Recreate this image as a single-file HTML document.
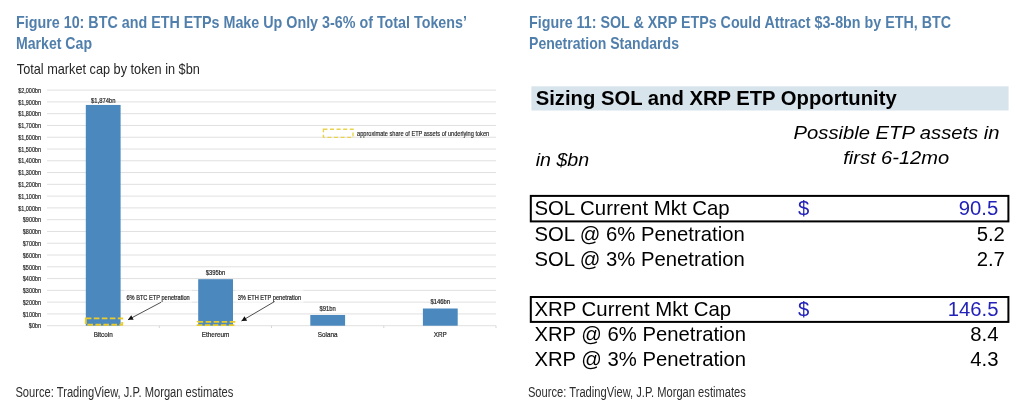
<!DOCTYPE html>
<html><head><meta charset="utf-8"><style>
html,body{margin:0;padding:0;background:#fff;width:1024px;height:410px;overflow:hidden}
svg{display:block;will-change:transform}
text{font-family:"Liberation Sans",sans-serif}
</style></head><body>
<svg width="1024" height="410" viewBox="0 0 1024 410">
<text x="16" y="27.9" font-size="17" fill="#517fac" font-weight="bold" textLength="451" lengthAdjust="spacingAndGlyphs">Figure 10: BTC and ETH ETPs Make Up Only 3-6% of Total Tokens’</text>
<text x="16" y="48.9" font-size="17" fill="#517fac" font-weight="bold" textLength="76" lengthAdjust="spacingAndGlyphs">Market Cap</text>
<text x="16.8" y="73.6" font-size="15" fill="#262626" textLength="183" lengthAdjust="spacingAndGlyphs">Total market cap by token in $bn</text>
<line x1="47" y1="325.70" x2="496" y2="325.70" stroke="#e0e0e0" stroke-width="1"/>
<text transform="translate(41.0 328.4) scale(0.7 1)" font-size="7.8" fill="#222" stroke="#222" stroke-width="0.2" text-anchor="end">$0bn</text>
<line x1="47" y1="313.92" x2="496" y2="313.92" stroke="#e0e0e0" stroke-width="1"/>
<text transform="translate(41.0 316.62) scale(0.7 1)" font-size="7.8" fill="#222" stroke="#222" stroke-width="0.2" text-anchor="end">$100bn</text>
<line x1="47" y1="302.14" x2="496" y2="302.14" stroke="#e0e0e0" stroke-width="1"/>
<text transform="translate(41.0 304.84) scale(0.7 1)" font-size="7.8" fill="#222" stroke="#222" stroke-width="0.2" text-anchor="end">$200bn</text>
<line x1="47" y1="290.36" x2="496" y2="290.36" stroke="#e0e0e0" stroke-width="1"/>
<text transform="translate(41.0 293.06) scale(0.7 1)" font-size="7.8" fill="#222" stroke="#222" stroke-width="0.2" text-anchor="end">$300bn</text>
<line x1="47" y1="278.58" x2="496" y2="278.58" stroke="#e0e0e0" stroke-width="1"/>
<text transform="translate(41.0 281.28) scale(0.7 1)" font-size="7.8" fill="#222" stroke="#222" stroke-width="0.2" text-anchor="end">$400bn</text>
<line x1="47" y1="266.80" x2="496" y2="266.80" stroke="#e0e0e0" stroke-width="1"/>
<text transform="translate(41.0 269.5) scale(0.7 1)" font-size="7.8" fill="#222" stroke="#222" stroke-width="0.2" text-anchor="end">$500bn</text>
<line x1="47" y1="255.02" x2="496" y2="255.02" stroke="#e0e0e0" stroke-width="1"/>
<text transform="translate(41.0 257.72) scale(0.7 1)" font-size="7.8" fill="#222" stroke="#222" stroke-width="0.2" text-anchor="end">$600bn</text>
<line x1="47" y1="243.24" x2="496" y2="243.24" stroke="#e0e0e0" stroke-width="1"/>
<text transform="translate(41.0 245.94) scale(0.7 1)" font-size="7.8" fill="#222" stroke="#222" stroke-width="0.2" text-anchor="end">$700bn</text>
<line x1="47" y1="231.46" x2="496" y2="231.46" stroke="#e0e0e0" stroke-width="1"/>
<text transform="translate(41.0 234.16) scale(0.7 1)" font-size="7.8" fill="#222" stroke="#222" stroke-width="0.2" text-anchor="end">$800bn</text>
<line x1="47" y1="219.68" x2="496" y2="219.68" stroke="#e0e0e0" stroke-width="1"/>
<text transform="translate(41.0 222.38) scale(0.7 1)" font-size="7.8" fill="#222" stroke="#222" stroke-width="0.2" text-anchor="end">$900bn</text>
<line x1="47" y1="207.90" x2="496" y2="207.90" stroke="#e0e0e0" stroke-width="1"/>
<text transform="translate(41.0 210.6) scale(0.7 1)" font-size="7.8" fill="#222" stroke="#222" stroke-width="0.2" text-anchor="end">$1,000bn</text>
<line x1="47" y1="196.12" x2="496" y2="196.12" stroke="#e0e0e0" stroke-width="1"/>
<text transform="translate(41.0 198.82) scale(0.7 1)" font-size="7.8" fill="#222" stroke="#222" stroke-width="0.2" text-anchor="end">$1,100bn</text>
<line x1="47" y1="184.34" x2="496" y2="184.34" stroke="#e0e0e0" stroke-width="1"/>
<text transform="translate(41.0 187.04) scale(0.7 1)" font-size="7.8" fill="#222" stroke="#222" stroke-width="0.2" text-anchor="end">$1,200bn</text>
<line x1="47" y1="172.56" x2="496" y2="172.56" stroke="#e0e0e0" stroke-width="1"/>
<text transform="translate(41.0 175.26) scale(0.7 1)" font-size="7.8" fill="#222" stroke="#222" stroke-width="0.2" text-anchor="end">$1,300bn</text>
<line x1="47" y1="160.78" x2="496" y2="160.78" stroke="#e0e0e0" stroke-width="1"/>
<text transform="translate(41.0 163.48) scale(0.7 1)" font-size="7.8" fill="#222" stroke="#222" stroke-width="0.2" text-anchor="end">$1,400bn</text>
<line x1="47" y1="149.00" x2="496" y2="149.00" stroke="#e0e0e0" stroke-width="1"/>
<text transform="translate(41.0 151.7) scale(0.7 1)" font-size="7.8" fill="#222" stroke="#222" stroke-width="0.2" text-anchor="end">$1,500bn</text>
<line x1="47" y1="137.22" x2="496" y2="137.22" stroke="#e0e0e0" stroke-width="1"/>
<text transform="translate(41.0 139.92) scale(0.7 1)" font-size="7.8" fill="#222" stroke="#222" stroke-width="0.2" text-anchor="end">$1,600bn</text>
<line x1="47" y1="125.44" x2="496" y2="125.44" stroke="#e0e0e0" stroke-width="1"/>
<text transform="translate(41.0 128.14) scale(0.7 1)" font-size="7.8" fill="#222" stroke="#222" stroke-width="0.2" text-anchor="end">$1,700bn</text>
<line x1="47" y1="113.66" x2="496" y2="113.66" stroke="#e0e0e0" stroke-width="1"/>
<text transform="translate(41.0 116.36) scale(0.7 1)" font-size="7.8" fill="#222" stroke="#222" stroke-width="0.2" text-anchor="end">$1,800bn</text>
<line x1="47" y1="101.88" x2="496" y2="101.88" stroke="#e0e0e0" stroke-width="1"/>
<text transform="translate(41.0 104.58) scale(0.7 1)" font-size="7.8" fill="#222" stroke="#222" stroke-width="0.2" text-anchor="end">$1,900bn</text>
<line x1="47" y1="90.10" x2="496" y2="90.10" stroke="#e0e0e0" stroke-width="1"/>
<text transform="translate(41.0 92.8) scale(0.7 1)" font-size="7.8" fill="#222" stroke="#222" stroke-width="0.2" text-anchor="end">$2,000bn</text>
<line x1="159.3" y1="325.7" x2="159.3" y2="328" stroke="#d6d6d6" stroke-width="1"/>
<line x1="271.5" y1="325.7" x2="271.5" y2="328" stroke="#d6d6d6" stroke-width="1"/>
<line x1="383.8" y1="325.7" x2="383.8" y2="328" stroke="#d6d6d6" stroke-width="1"/>
<line x1="496" y1="325.7" x2="496" y2="328" stroke="#d6d6d6" stroke-width="1"/>
<rect x="85.80" y="104.94" width="34.8" height="220.76" fill="#4b88be"/>
<text transform="translate(103.2 102.7) scale(0.78 1)" font-size="7.5" fill="#222" stroke="#222" stroke-width="0.2" text-anchor="middle">$1,874bn</text>
<text transform="translate(103.2 336.6) scale(0.84 1)" font-size="7.6" fill="#222" stroke="#222" stroke-width="0.2" text-anchor="middle">Bitcoin</text>
<rect x="198.20" y="279.17" width="34.8" height="46.53" fill="#4b88be"/>
<text transform="translate(215.6 274.87) scale(0.78 1)" font-size="7.5" fill="#222" stroke="#222" stroke-width="0.2" text-anchor="middle">$395bn</text>
<text transform="translate(215.6 336.6) scale(0.84 1)" font-size="7.6" fill="#222" stroke="#222" stroke-width="0.2" text-anchor="middle">Ethereum</text>
<rect x="310.30" y="314.98" width="34.8" height="10.72" fill="#4b88be"/>
<text transform="translate(327.7 310.68) scale(0.78 1)" font-size="7.5" fill="#222" stroke="#222" stroke-width="0.2" text-anchor="middle">$91bn</text>
<text transform="translate(327.7 336.6) scale(0.84 1)" font-size="7.6" fill="#222" stroke="#222" stroke-width="0.2" text-anchor="middle">Solana</text>
<rect x="422.90" y="308.50" width="34.8" height="17.20" fill="#4b88be"/>
<text transform="translate(440.3 304.2) scale(0.78 1)" font-size="7.5" fill="#222" stroke="#222" stroke-width="0.2" text-anchor="middle">$146bn</text>
<text transform="translate(440.3 336.6) scale(0.84 1)" font-size="7.6" fill="#222" stroke="#222" stroke-width="0.2" text-anchor="middle">XRP</text>
<rect x="85.8" y="318.4" width="36.4" height="6.4" fill="none" stroke="#eccc2a" stroke-width="1.9" stroke-dasharray="5.6 2.4"/>
<rect x="197.6" y="321.9" width="36.8" height="3.2" fill="none" stroke="#eccc2a" stroke-width="1.8" stroke-dasharray="5.6 2.4"/>
<rect x="124" y="287.5" width="68" height="16" fill="#fff" fill-opacity="0.5"/>
<rect x="235.5" y="287.5" width="68" height="16" fill="#fff" fill-opacity="0.5"/>
<line x1="161.2" y1="302.2" x2="128.0" y2="319.8" stroke="#222" stroke-width="0.8"/>
<polygon points="128.00,319.80 131.20,315.16 133.64,319.76" fill="#111"/>
<line x1="274.6" y1="301.5" x2="241.5" y2="321.0" stroke="#222" stroke-width="0.8"/>
<polygon points="241.50,321.00 244.49,316.22 247.13,320.70" fill="#111"/>
<text transform="translate(126.4 299.8) scale(0.765 1)" font-size="7.4" fill="#1a1a1a" stroke="#1a1a1a" stroke-width="0.2">6% BTC ETP penetration</text>
<text transform="translate(237.7 299.8) scale(0.765 1)" font-size="7.4" fill="#1a1a1a" stroke="#1a1a1a" stroke-width="0.2">3% ETH ETP penetration</text>
<rect x="323.4" y="129.2" width="29.6" height="8.2" fill="none" stroke="#e9d34c" stroke-width="1.4" stroke-dasharray="4 2.6"/>
<text transform="translate(357 135.9) scale(0.805 1)" font-size="7" fill="#1a1a1a" stroke="#1a1a1a" stroke-width="0.15">approximate share of ETP assets of underlying token</text>
<text x="15.4" y="397.3" font-size="14" fill="#2e2e2e" textLength="218" lengthAdjust="spacingAndGlyphs">Source: TradingView, J.P. Morgan estimates</text>
<text x="529" y="27.7" font-size="17" fill="#517fac" font-weight="bold" textLength="422" lengthAdjust="spacingAndGlyphs">Figure 11: SOL &amp; XRP ETPs Could Attract $3-8bn by ETH, BTC</text>
<text x="529" y="48.75" font-size="17" fill="#517fac" font-weight="bold" textLength="150" lengthAdjust="spacingAndGlyphs">Penetration Standards</text>
<rect x="531.4" y="86.3" width="477.2" height="24.2" fill="#d8e4ec"/>
<text x="535.7" y="104.7" font-size="19.5" fill="#000" font-weight="bold" textLength="361" lengthAdjust="spacingAndGlyphs">Sizing SOL and XRP ETP Opportunity</text>
<text x="793.6" y="139.3" font-size="19" fill="#000" font-style="italic" textLength="206" lengthAdjust="spacingAndGlyphs">Possible ETP assets in</text>
<text x="843.2" y="164.1" font-size="19" fill="#000" font-style="italic" textLength="106" lengthAdjust="spacingAndGlyphs">first 6-12mo</text>
<text x="535.7" y="165.6" font-size="19" fill="#000" font-style="italic" textLength="53.5" lengthAdjust="spacingAndGlyphs">in $bn</text>
<rect x="530.8" y="195.9" width="477.6" height="25.5" fill="none" stroke="#000" stroke-width="2"/>
<rect x="530.8" y="297.0" width="477.6" height="24.899999999999977" fill="none" stroke="#000" stroke-width="2"/>
<text x="534.4" y="215.1" font-size="20.3" fill="#000" textLength="195.3" lengthAdjust="spacingAndGlyphs">SOL Current Mkt Cap</text>
<text x="798.0" y="215.1" font-size="20.3" fill="#2222b8">$</text>
<text x="998.2" y="215.1" font-size="20.3" fill="#2222b8" text-anchor="end">90.5</text>
<text x="534.4" y="240.8" font-size="20.3" fill="#000" textLength="210.3" lengthAdjust="spacingAndGlyphs">SOL @ 6% Penetration</text>
<text x="1004.9000000000001" y="240.8" font-size="20.3" fill="#000" text-anchor="end">5.2</text>
<text x="534.4" y="266.3" font-size="20.3" fill="#000" textLength="210.3" lengthAdjust="spacingAndGlyphs">SOL @ 3% Penetration</text>
<text x="1004.9000000000001" y="266.3" font-size="20.3" fill="#000" text-anchor="end">2.7</text>
<text x="534.4" y="316.3" font-size="20.3" fill="#000" textLength="196.8" lengthAdjust="spacingAndGlyphs">XRP Current Mkt Cap</text>
<text x="798.0" y="316.3" font-size="20.3" fill="#2222b8">$</text>
<text x="998.5" y="316.3" font-size="20.3" fill="#2222b8" text-anchor="end">146.5</text>
<text x="534.4" y="341.0" font-size="20.3" fill="#000" textLength="211.7" lengthAdjust="spacingAndGlyphs">XRP @ 6% Penetration</text>
<text x="998.5" y="341.0" font-size="20.3" fill="#000" text-anchor="end">8.4</text>
<text x="534.4" y="365.8" font-size="20.3" fill="#000" textLength="211.7" lengthAdjust="spacingAndGlyphs">XRP @ 3% Penetration</text>
<text x="998.5" y="365.8" font-size="20.3" fill="#000" text-anchor="end">4.3</text>
<text x="527.9" y="397.3" font-size="14" fill="#2e2e2e" textLength="218" lengthAdjust="spacingAndGlyphs">Source: TradingView, J.P. Morgan estimates</text>
</svg>
</body></html>
